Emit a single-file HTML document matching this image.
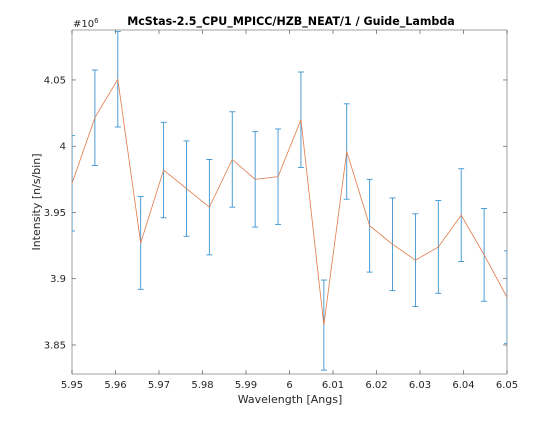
<!DOCTYPE html>
<html><head><meta charset="utf-8"><style>
body{margin:0;background:#fff;width:560px;height:420px;overflow:hidden;font-family:"DejaVu Sans",sans-serif}
text{font-family:"DejaVu Sans",sans-serif}
</style></head><body>
<svg id="chart" width="560" height="420"></svg>
<script>
const values=[3.972,4.0215,4.0505,3.927,3.982,3.968,3.954,3.990,3.975,3.977,4.020,3.865,3.996,3.940,3.926,3.914,3.924,3.948,3.918,3.886];
const errors=[0.036,0.036,0.036,0.035,0.036,0.036,0.036,0.036,0.036,0.036,0.036,0.034,0.036,0.035,0.035,0.035,0.035,0.035,0.035,0.035];
const xTicks=[5.95,5.96,5.97,5.98,5.99,6,6.01,6.02,6.03,6.04,6.05];
const xTickLabels=["5.95","5.96","5.97","5.98","5.99","6","6.01","6.02","6.03","6.04","6.05"];
const yTicks=[3.85,3.9,3.95,4,4.05];
const yTickLabels=["3.85","3.9","3.95","4","4.05"];
const xMin=5.95,xMax=6.05,yMin=3.8281,yMax=4.0877;
const L=72,R=507,T=30,B=374;
const sx=v=>L+(v-xMin)/(xMax-xMin)*(R-L);
const sy=v=>B-(v-yMin)/(yMax-yMin)*(B-T);
const NS="http://www.w3.org/2000/svg";
const svg=document.getElementById('chart');
function mk(tag,attrs,parent){const e=document.createElementNS(NS,tag);for(const k in attrs)e.setAttribute(k,attrs[k]);(parent||svg).appendChild(e);return e;}
const clip=mk('clipPath',{id:'pc'});mk('rect',{x:L,y:T,width:R-L,height:B-T},clip);
const area=mk('rect',{x:L,y:T,width:R-L,height:B-T,fill:'#fff',stroke:'none'});


const ax='#a0a0a0';
mk('line',{x1:L,y1:B,x2:R,y2:B,stroke:ax,'stroke-width':1});
mk('line',{x1:L,y1:T,x2:L,y2:B,stroke:ax,'stroke-width':1});
mk('line',{x1:L,y1:T,x2:R,y2:T,stroke:ax,'stroke-width':1});
mk('line',{x1:R,y1:T,x2:R,y2:B,stroke:ax,'stroke-width':1});
xTicks.forEach((t,i)=>{const x=sx(t);
mk('line',{x1:x,y1:B,x2:x,y2:B-4,stroke:'#444','stroke-width':0.6});
mk('line',{x1:x,y1:T,x2:x,y2:T+4,stroke:'#444','stroke-width':0.6});
const tx=mk('text',{x:x,y:B+14,'text-anchor':'middle','font-size':10,fill:'#262626'});tx.textContent=xTickLabels[i];

});
yTicks.forEach((t,i)=>{const y=sy(t);
mk('line',{x1:L,y1:y,x2:L+4,y2:y,stroke:'#444','stroke-width':0.6});
mk('line',{x1:R,y1:y,x2:R-4,y2:y,stroke:'#444','stroke-width':0.6});
const tx=mk('text',{x:L-6,y:y+3.5,'text-anchor':'end','font-size':10,fill:'#262626'});tx.textContent=yTickLabels[i];

});
const g=mk('g',{'clip-path':'url(#pc)'});


const n=values.length;
const xs=values.map((v,i)=>xMin+i*(xMax-xMin)/(n-1));
values.forEach((v,i)=>{const x=sx(xs[i]),y1=sy(v+errors[i]),y2=sy(v-errors[i]);
const eb=mk('g',{stroke:'#3a94d0','stroke-width':0.9},g);


mk('line',{x1:x,y1:y1,x2:x,y2:y2},eb);
mk('line',{x1:x-3,y1:y1,x2:x+3,y2:y1},eb);
mk('line',{x1:x-3,y1:y2,x2:x+3,y2:y2},eb);});
const line=mk('polyline',{points:values.map((v,i)=>sx(xs[i])+','+sy(v)).join(' '),fill:'none',stroke:'#e07a4a','stroke-width':0.8},g);


const t1=mk('text',{x:291,y:25,'text-anchor':'middle','font-size':11.1,'font-weight':'bold',fill:'#000'});t1.textContent='McStas-2.5_CPU_MPICC/HZB_NEAT/1 / Guide_Lambda';


const ex=mk('text',{x:73,y:27,'font-size':10,fill:'#262626'});ex.innerHTML='#10<tspan dy="-4" font-size="7">6</tspan>';


const xl=mk('text',{x:290,y:403,'text-anchor':'middle','font-size':11,fill:'#262626'});xl.textContent='Wavelength [Angs]';


const yl=mk('text',{x:0,y:0,'text-anchor':'middle','font-size':11,fill:'#262626',transform:'translate(40,202) rotate(-90)'});yl.textContent='Intensity [n/s/bin]';


</script>
</body></html>
